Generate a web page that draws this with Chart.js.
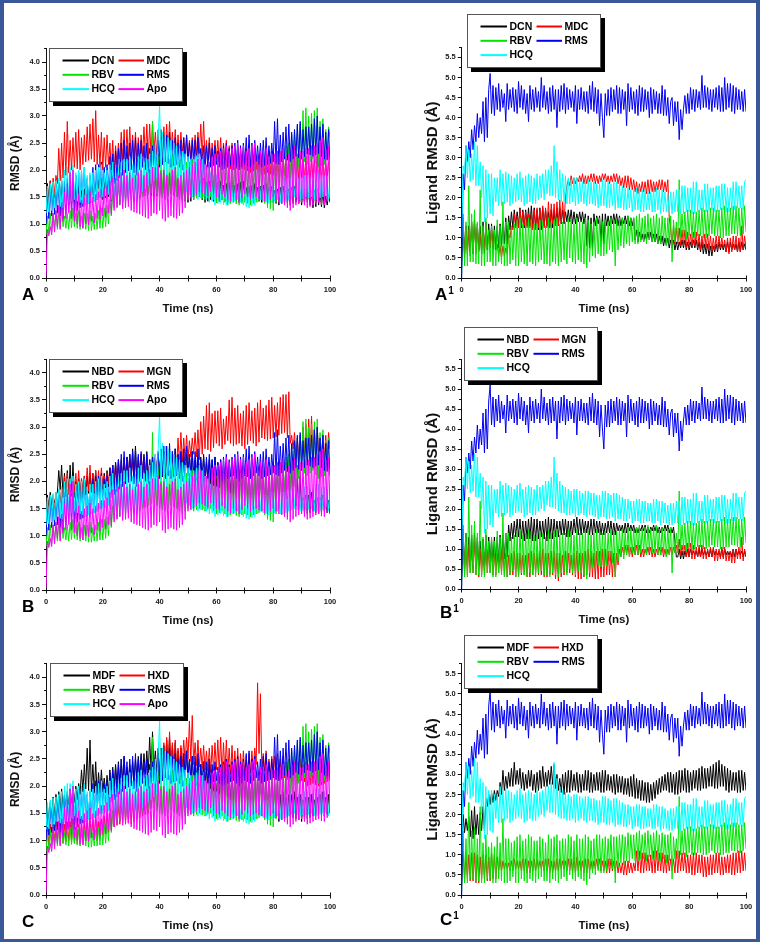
<!DOCTYPE html>
<html>
<head>
<meta charset="utf-8">
<script src="https://cdn.jsdelivr.net/npm/chart.js@4.4.1/dist/chart.umd.min.js"></script>
<style>
  html, body { margin: 0; padding: 0; background: #fff; }
  #page { position: relative; width: 760px; height: 942px; overflow: hidden; background: #fff; }
  #frame { position: absolute; left: 0; top: 0; width: 760px; height: 942px; box-sizing: border-box;
           border: 3px solid #3a5898; border-left-width: 4px; border-right-width: 4px; z-index: 5; pointer-events: none; }
  canvas { position: absolute; }
</style>
</head>
<body>
<div id="page">
  <canvas id="chartA"  width="380" height="323"></canvas>
  <canvas id="chartA1" width="380" height="323"></canvas>
  <canvas id="chartB"  width="380" height="325"></canvas>
  <canvas id="chartB1" width="380" height="324"></canvas>
  <canvas id="chartC"  width="380" height="323"></canvas>
  <canvas id="chartC1" width="380" height="323"></canvas>
  <div id="frame"></div>
</div>
<script>
// sampling grid: every 0.5 ns, one row of each array below = 10 ns
const TIME = Array.from({ length: 201 }, (_, i) => i / 2);
const X_TICKS = [0, 20, 40, 60, 80, 100];
const X_TICKS_MINOR = [0, 10, 20, 30, 40, 50, 60, 70, 80, 90, 100];
const Y_TICKS_PROTEIN = [0, 0.5, 1, 1.5, 2, 2.5, 3, 3.5, 4];
const Y_TICKS_LIGAND = [0, 0.5, 1, 1.5, 2, 2.5, 3, 3.5, 4, 4.5, 5, 5.5];

// protein RMSD (A), shared by panels A, B, C
const protApo = [
  0.00,0.90,0.78,0.95, 0.80,1.20,0.85,1.25, 0.95,1.35,0.90,1.40, 1.05,1.60,1.10,1.75, 1.20,1.95,1.10,2.00,
  1.05,1.50,1.00,1.55, 0.95,1.45,0.92,1.50, 1.00,1.55,0.98,1.60, 1.05,1.50,1.02,1.55, 1.10,1.60,1.08,1.65,
  1.15,1.65,1.12,1.70, 1.20,1.80,1.18,1.85, 1.25,1.85,1.30,1.90, 1.35,1.95,1.28,2.00, 1.30,1.90,1.32,1.95,
  1.25,1.85,1.22,1.90, 1.20,1.95,1.18,2.00, 1.15,1.90,1.12,1.95, 1.10,2.00,1.15,2.05, 1.20,2.05,1.18,2.10,
  1.25,1.95,1.10,2.00, 1.05,1.90,1.12,1.95, 1.15,2.00,1.12,2.05, 1.10,1.85,1.15,1.90, 1.20,1.95,1.30,2.00,
  1.45,2.05,1.48,2.10, 1.50,2.15,1.55,2.20, 1.60,2.20,1.58,2.25, 1.55,2.10,1.52,2.15, 1.60,2.25,1.55,2.30,
  1.50,2.30,1.48,2.35, 1.55,2.40,1.50,2.45, 1.45,2.35,1.42,2.40, 1.50,2.45,1.45,2.50, 1.40,2.40,1.48,2.45,
  1.55,2.35,1.50,2.40, 1.45,2.45,1.48,2.50, 1.50,2.30,1.47,2.35, 1.45,2.35,1.42,2.40, 1.40,2.25,1.45,2.30,
  1.50,2.30,1.45,2.35, 1.40,2.35,1.38,2.40, 1.35,2.25,1.30,2.30, 1.25,2.40,1.30,2.45, 1.35,2.30,1.38,2.35,
  1.40,2.35,1.35,2.40, 1.30,2.40,1.32,2.45, 1.35,2.45,1.38,2.50, 1.40,2.55,1.36,2.60, 1.35,2.40,1.42,2.45,
  1.50];
const protHCQ = [
  1.20,1.70,1.22,1.75, 1.25,1.78,1.30,1.80, 1.35,1.85,1.32,1.90, 1.30,2.00,1.35,2.05, 1.40,2.05,1.42,2.10,
  1.45,1.95,1.42,2.00, 1.40,2.00,1.38,2.05, 1.35,1.90,1.38,1.95, 1.40,1.95,1.42,2.00, 1.45,2.05,1.48,2.10,
  1.50,1.95,1.52,2.00, 1.55,2.10,1.45,2.15, 1.35,2.00,1.40,2.05, 1.45,2.15,1.42,2.20, 1.40,2.20,1.45,2.25,
  1.50,2.10,1.48,2.15, 1.45,2.25,1.55,2.30, 1.60,2.15,1.65,2.20, 1.70,2.30,1.75,2.35, 1.80,2.50,1.85,2.60,
  3.20,2.00,2.70,1.95, 2.65,1.90,2.60,1.85, 2.55,1.88,2.50,1.80, 2.45,1.82,2.40,1.70, 2.35,1.65,2.30,1.60,
  2.25,1.55,2.20,1.50, 2.20,1.52,2.25,1.45, 2.30,1.48,2.20,1.50, 2.10,1.45,2.05,1.40, 1.95,1.42,1.90,1.35,
  1.90,1.38,1.85,1.40, 1.85,1.36,1.80,1.35, 1.80,1.38,1.75,1.40, 1.75,1.42,1.70,1.45, 1.70,1.40,1.80,1.35,
  1.80,1.32,1.75,1.30, 1.70,1.33,1.75,1.35, 1.75,1.40,1.85,1.45, 1.85,1.42,1.75,1.40, 1.75,1.38,1.80,1.40,
  1.80,1.42,1.75,1.45, 1.75,1.40,1.80,1.40, 1.80,1.42,1.85,1.45, 1.85,1.48,1.90,1.50, 1.90,1.48,1.85,1.45,
  1.85,1.47,1.90,1.50, 1.90,1.48,1.85,1.50, 1.85,1.45,1.95,1.45, 1.95,1.48,1.90,1.50, 1.90,1.52,1.85,1.45,
  1.80];
const protRMS = [
  1.00,1.55,1.10,1.60, 1.15,1.65,1.18,1.70, 1.20,1.75,1.15,1.80, 1.10,1.80,1.20,1.85, 1.25,1.95,1.22,2.00,
  1.20,1.90,1.25,1.95, 1.30,2.00,1.32,2.05, 1.35,1.85,1.38,1.90, 1.40,2.05,1.42,2.10, 1.45,2.10,1.50,2.15,
  1.55,2.05,1.58,2.10, 1.60,2.25,1.70,2.30, 1.75,2.35,1.80,2.40, 1.85,2.50,1.90,2.55, 1.95,2.45,1.98,2.50,
  2.00,2.55,1.95,2.60, 1.90,2.50,2.00,2.55, 2.05,2.45,2.00,2.50, 1.95,2.40,2.05,2.45, 2.10,2.50,2.08,2.55,
  2.05,2.60,2.10,2.65, 2.15,2.65,2.12,2.70, 2.05,2.55,2.08,2.60, 2.10,2.50,2.05,2.55, 2.00,2.60,2.10,2.65,
  2.15,2.50,2.10,2.55, 2.05,2.55,2.08,2.60, 2.10,2.40,2.05,2.45, 2.00,2.45,2.02,2.50, 2.05,2.40,2.08,2.45,
  2.10,2.35,2.05,2.40, 2.00,2.45,2.02,2.50, 2.05,2.40,2.08,2.45, 2.10,2.50,2.05,2.55, 2.00,2.45,2.05,2.50,
  2.10,2.60,2.08,2.65, 2.05,2.50,2.10,2.55, 2.15,2.45,2.10,2.50, 2.05,2.55,2.08,2.60, 2.10,2.45,2.12,2.50,
  2.15,2.90,2.12,2.95, 2.10,2.65,2.15,2.70, 2.20,2.80,2.18,2.85, 2.15,2.70,2.20,2.75, 2.25,2.85,2.22,2.90,
  2.20,2.75,2.25,2.80, 2.30,2.80,2.28,2.85, 2.25,2.95,2.28,3.00, 2.30,2.80,2.25,2.85, 2.20,2.70,2.18,2.75,
  2.10];
const protRBV = [
  0.80,1.15,0.82,1.20, 0.85,1.20,0.88,1.25, 0.90,1.25,0.92,1.30, 0.95,1.15,0.92,1.20, 0.90,1.25,0.93,1.30,
  0.95,1.20,0.92,1.25, 0.90,1.15,0.92,1.20, 0.90,1.20,0.88,1.25, 0.88,1.15,0.90,1.20, 0.90,1.25,0.92,1.30,
  0.92,1.30,0.95,1.35, 1.00,1.45,1.15,1.55, 1.30,1.80,1.32,1.85, 1.35,1.85,1.38,1.90, 1.40,1.95,1.42,2.00,
  1.45,1.90,1.42,1.95, 1.40,2.00,1.45,2.05, 1.50,2.10,1.52,2.20, 1.55,2.40,1.58,2.90, 1.60,2.25,1.55,2.30,
  1.50,2.20,1.48,2.25, 1.45,2.15,1.50,2.20, 1.55,2.30,1.52,2.35, 1.50,2.15,1.45,2.20, 1.40,2.10,1.45,2.15,
  1.50,2.15,1.48,2.20, 1.45,2.05,1.48,2.10, 1.50,2.20,1.47,2.25, 1.45,2.05,1.48,2.10, 1.50,2.15,1.45,2.20,
  1.40,2.10,1.42,2.15, 1.45,2.15,1.40,2.20, 1.35,2.05,1.38,2.10, 1.40,2.20,1.37,2.25, 1.35,2.15,1.38,2.20,
  1.40,2.25,1.38,2.30, 1.35,2.15,1.38,2.20, 1.40,2.20,1.42,2.25, 1.45,2.30,1.38,2.35, 1.30,2.25,1.28,2.30,
  1.25,2.20,1.40,2.25, 1.50,2.35,1.55,2.40, 1.60,2.45,1.75,2.50, 1.85,2.65,1.88,2.70, 1.90,2.80,2.05,2.85,
  2.20,3.10,2.15,3.15, 2.10,3.00,2.15,3.05, 2.20,3.10,2.12,3.15, 2.05,2.90,2.08,2.95, 2.10,2.75,2.20,2.80,
  2.60];
const protDCN = [
  1.40,1.75,1.45,1.80, 1.50,1.72,1.48,1.75, 1.45,1.78,1.42,1.80, 1.40,1.68,1.38,1.70, 1.35,1.72,1.38,1.75,
  1.40,1.68,1.38,1.70, 1.35,1.62,1.38,1.65, 1.40,1.72,1.42,1.75, 1.45,1.78,1.48,1.80, 1.50,1.82,1.48,1.85,
  1.45,1.78,1.48,1.80, 1.50,1.88,1.42,1.90, 1.35,1.82,1.38,1.85, 1.40,1.92,1.42,1.95, 1.45,1.88,1.48,1.90,
  1.50,1.98,1.48,2.00, 1.45,1.92,1.48,1.95, 1.50,1.98,1.52,2.00, 1.55,2.02,1.52,2.05, 1.50,1.92,1.52,1.95,
  1.55,1.98,1.52,2.00, 1.50,1.92,1.52,1.95, 1.55,2.02,1.52,2.05, 1.50,1.92,1.48,1.95, 1.45,1.88,1.42,1.90,
  1.40,1.82,1.42,1.85, 1.45,1.88,1.48,1.90, 1.50,1.82,1.45,1.85, 1.40,1.78,1.42,1.80, 1.45,1.82,1.42,1.85,
  1.40,1.78,1.42,1.80, 1.45,1.72,1.42,1.75, 1.40,1.78,1.42,1.80, 1.45,1.72,1.42,1.75, 1.40,1.78,1.42,1.80,
  1.45,1.68,1.42,1.70, 1.40,1.72,1.42,1.75, 1.45,1.68,1.42,1.70, 1.40,1.72,1.42,1.75, 1.45,1.68,1.42,1.70,
  1.40,1.62,1.38,1.65, 1.35,1.68,1.38,1.70, 1.40,1.62,1.38,1.65, 1.35,1.68,1.38,1.70, 1.40,1.58,1.38,1.60,
  1.35,1.62,1.38,1.65, 1.40,1.58,1.35,1.60, 1.30,1.62,1.32,1.65, 1.35,1.58,1.32,1.60, 1.30,1.52,1.35,1.55,
  1.40];
const protMDC = [
  1.20,1.70,1.30,1.80, 1.40,1.85,1.55,1.90, 1.75,2.40,1.80,2.50, 1.85,2.70,1.90,2.90, 1.95,2.55,2.00,2.60,
  2.05,2.70,2.02,2.75, 2.00,2.60,2.10,2.65, 2.15,2.80,2.18,2.85, 2.20,2.95,2.15,3.10, 2.10,2.65,2.05,2.70,
  2.00,2.60,2.05,2.65, 2.10,2.50,2.00,2.55, 1.95,2.45,2.10,2.50, 2.20,2.70,2.18,2.75, 2.15,2.75,2.18,2.80,
  2.20,2.65,2.18,2.70, 2.15,2.60,2.20,2.65, 2.25,2.80,2.22,2.85, 2.20,2.85,2.25,2.90, 2.30,2.70,2.28,2.75,
  2.25,2.75,2.28,2.80, 2.30,2.85,2.32,2.90, 2.35,2.70,2.30,2.75, 2.25,2.65,2.28,2.70, 2.30,2.60,2.25,2.65,
  2.20,2.55,2.22,2.60, 2.25,2.65,2.28,2.70, 2.30,2.85,2.25,2.90, 2.20,2.55,2.18,2.60, 2.15,2.50,2.18,2.55,
  2.20,2.55,2.15,2.60, 2.10,2.50,2.08,2.55, 2.05,2.45,2.02,2.50, 2.00,2.40,2.02,2.45, 2.05,2.35,2.02,2.40,
  2.00,2.40,1.98,2.45, 1.95,2.35,1.98,2.40, 2.00,2.30,1.95,2.35, 1.90,2.25,1.92,2.30, 1.95,2.30,1.92,2.35,
  1.90,2.25,1.88,2.30, 1.85,2.20,1.88,2.25, 1.90,2.25,1.88,2.30, 1.85,2.20,1.82,2.25, 1.80,2.25,1.82,2.30,
  1.85,2.20,1.82,2.25, 1.80,2.15,1.82,2.20, 1.85,2.20,1.82,2.25, 1.80,2.15,1.82,2.20, 1.85,2.10,1.88,2.15,
  1.90];
const protNBD = [
  1.50,1.75,1.52,1.80, 1.55,1.70,1.60,1.75, 1.80,2.20,1.85,2.30, 1.70,2.15,1.72,2.20, 1.75,2.30,1.72,2.35,
  1.70,2.00,1.68,2.05, 1.65,2.05,1.70,2.10, 1.75,2.10,1.78,2.15, 1.80,2.15,1.78,2.20, 1.75,2.05,1.80,2.10,
  1.85,2.15,1.88,2.20, 1.90,2.25,1.92,2.30, 1.95,2.35,1.98,2.40, 2.00,2.40,2.02,2.45, 2.05,2.45,2.08,2.50,
  2.10,2.60,2.08,2.65, 2.05,2.45,2.08,2.50, 2.10,2.50,2.05,2.55, 2.00,2.40,2.02,2.45, 2.05,2.45,2.08,2.50,
  2.10,2.50,2.08,2.55, 2.05,2.45,2.10,2.50, 2.15,2.55,2.12,2.60, 2.10,2.50,2.08,2.55, 2.05,2.45,2.08,2.50,
  2.10,2.50,2.05,2.55, 2.00,2.40,2.02,2.45, 2.05,2.45,2.02,2.50, 2.00,2.35,1.98,2.40, 1.95,2.40,1.92,2.45,
  1.90,2.35,1.88,2.40, 1.85,2.30,1.82,2.35, 1.80,2.25,1.78,2.30, 1.75,2.30,1.72,2.35, 1.70,2.25,1.65,2.30,
  1.60,2.20,1.58,2.25, 1.55,2.15,1.52,2.20, 1.50,2.20,1.52,2.25, 1.55,2.15,1.52,2.20, 1.50,2.10,1.52,2.15,
  1.55,2.20,1.58,2.25, 1.60,2.25,1.62,2.30, 1.65,2.35,1.68,2.40, 1.70,2.40,1.62,2.45, 1.55,2.05,1.50,2.10,
  1.45,1.70,1.42,1.75, 1.40,1.75,1.42,1.80, 1.45,1.65,1.42,1.70, 1.40,1.70,1.42,1.75, 1.45,1.60,1.42,1.65,
  1.40];
const protMGN = [
  1.30,1.70,1.38,1.75, 1.45,1.75,1.48,1.80, 1.50,1.85,1.60,1.90, 1.70,2.10,1.72,2.15, 1.75,2.00,1.78,2.05,
  1.80,2.15,1.78,2.20, 1.75,2.05,1.80,2.10, 1.85,2.25,1.82,2.30, 1.80,2.15,1.82,2.20, 1.85,2.20,1.88,2.25,
  1.90,2.10,1.92,2.15, 1.95,2.25,1.98,2.30, 2.00,2.30,2.02,2.35, 2.05,2.35,2.02,2.40, 2.00,2.40,2.05,2.45,
  2.10,2.35,2.08,2.40, 2.05,2.45,2.10,2.50, 2.15,2.40,2.12,2.45, 2.10,2.35,2.12,2.40, 2.15,2.45,2.18,2.50,
  2.20,2.50,2.18,2.55, 2.15,2.55,2.18,2.60, 2.20,2.50,2.22,2.55, 2.25,2.80,2.30,2.90, 2.35,2.80,2.38,2.85,
  2.40,2.75,2.45,2.80, 2.50,2.90,2.45,2.95, 2.40,3.10,2.50,3.20, 2.60,3.40,2.58,3.45, 2.55,3.25,2.62,3.30,
  2.70,3.30,2.65,3.35, 2.60,3.15,2.68,3.20, 2.75,3.50,2.70,3.55, 2.65,3.35,2.68,3.40, 2.70,3.25,2.65,3.30,
  2.60,3.40,2.68,3.45, 2.75,3.30,2.70,3.35, 2.65,3.45,2.72,3.50, 2.80,3.35,2.78,3.40, 2.75,3.50,2.78,3.55,
  2.80,3.40,2.82,3.45, 2.85,3.55,2.88,3.60, 2.90,3.60,2.80,3.65, 2.70,2.85,2.60,2.90, 2.45,2.80,2.42,2.85,
  2.40,3.00,2.45,3.05, 2.50,3.15,2.48,3.20, 2.45,2.95,2.50,3.00, 2.55,2.80,2.48,2.85, 2.40,2.85,2.45,2.90,
  2.60];
const protMDF = [
  1.30,1.65,1.35,1.70, 1.40,1.80,1.45,1.85, 1.50,1.90,1.55,1.95, 1.60,1.85,1.62,1.90, 1.65,1.95,1.68,2.00,
  1.70,2.00,1.75,2.05, 1.85,2.30,1.90,2.40, 1.95,2.70,1.92,2.85, 1.90,2.40,1.88,2.45, 1.85,2.25,1.88,2.30,
  1.90,2.15,1.88,2.20, 1.85,2.30,1.92,2.35, 2.00,2.40,2.02,2.45, 2.05,2.50,2.08,2.55, 2.10,2.35,2.08,2.40,
  2.05,2.45,2.10,2.50, 2.15,2.55,2.18,2.60, 2.20,2.60,2.22,2.65, 2.25,2.90,2.28,3.00, 2.30,2.65,2.25,2.70,
  2.20,2.70,2.28,2.75, 2.35,2.85,2.32,2.90, 2.30,2.75,2.28,2.80, 2.25,2.65,2.22,2.70, 2.20,2.60,2.18,2.65,
  2.15,2.50,2.10,2.55, 2.05,2.45,2.02,2.50, 2.00,2.40,1.95,2.45, 1.90,2.35,1.88,2.40, 1.85,2.30,1.82,2.35,
  1.80,2.25,1.78,2.30, 1.75,2.30,1.72,2.35, 1.70,2.25,1.68,2.30, 1.65,2.20,1.62,2.25, 1.60,2.25,1.62,2.30,
  1.65,2.20,1.62,2.25, 1.60,2.15,1.58,2.20, 1.55,2.20,1.58,2.25, 1.60,2.15,1.58,2.20, 1.55,2.10,1.52,2.15,
  1.50,2.05,1.42,2.10, 1.35,1.85,1.38,1.90, 1.40,1.80,1.42,1.85, 1.45,1.85,1.42,1.90, 1.40,1.80,1.38,1.85,
  1.35,1.75,1.38,1.80, 1.40,1.80,1.42,1.85, 1.45,1.75,1.48,1.80, 1.50,1.85,1.48,1.90, 1.45,1.80,1.48,1.85,
  1.50];
const protHXD = [
  0.90,1.25,0.92,1.30, 0.95,1.30,0.98,1.35, 1.00,1.35,1.02,1.40, 0.95,1.30,0.98,1.35, 1.00,1.35,0.98,1.40,
  0.95,1.25,0.94,1.30, 0.92,1.30,0.95,1.35, 1.00,1.35,1.02,1.40, 1.05,1.40,1.02,1.45, 1.00,1.35,1.05,1.40,
  1.10,1.45,1.12,1.50, 1.15,1.50,1.20,1.55, 1.25,1.60,1.28,1.65, 1.30,1.65,1.32,1.70, 1.35,1.70,1.32,1.75,
  1.30,1.75,1.35,1.80, 1.40,1.70,1.42,1.75, 1.45,1.80,1.48,1.85, 1.50,1.85,1.60,1.90, 1.70,2.10,1.90,2.20,
  2.20,2.70,2.25,2.80, 2.30,2.90,2.32,3.00, 2.35,2.80,2.32,2.85, 2.30,2.70,2.35,2.75, 2.40,2.85,2.45,2.90,
  2.50,3.20,2.45,3.30, 2.40,2.80,2.38,2.85, 2.35,2.70,2.32,2.75, 2.30,2.65,2.28,2.70, 2.25,2.75,2.28,2.80,
  2.30,2.85,2.25,2.90, 2.20,2.80,2.22,2.85, 2.25,2.70,2.22,2.75, 2.20,2.65,2.18,2.70, 2.15,2.60,2.18,2.65,
  2.20,2.55,2.22,2.60, 2.25,2.65,2.30,2.70, 2.40,3.90,2.60,3.70, 2.30,2.60,2.28,2.65, 2.20,2.50,2.18,2.55,
  2.15,2.55,2.12,2.60, 2.10,2.50,2.12,2.55, 2.15,2.45,2.12,2.50, 2.10,2.40,2.08,2.45, 2.05,2.45,2.08,2.50,
  2.10,2.40,2.08,2.45, 2.00,2.35,2.02,2.40, 2.05,2.40,2.02,2.45, 2.00,2.35,2.02,2.40, 2.05,2.30,2.08,2.35,
  2.10];

// ligand RMSD (A), shared by panels A1, B1, C1
const ligRMS = [
  0.00,2.60,2.20,3.30, 2.90,3.40,3.00,3.70, 3.20,3.80,3.40,4.10, 3.50,4.00,3.60,4.40, 3.40,4.50,3.50,4.70,
  5.10,4.10,4.80,4.05, 4.75,4.20,4.85,4.15, 4.70,4.25,4.60,3.90, 4.85,4.20,4.70,4.25, 4.75,4.15,4.70,4.10,
  4.90,4.25,4.80,4.20, 4.70,4.10,4.60,3.90, 4.80,4.20,4.70,4.15, 4.75,4.25,4.65,4.15, 5.00,4.25,4.80,4.20,
  4.65,4.10,4.75,4.15, 4.80,4.20,4.70,3.75, 4.70,4.15,4.80,4.20, 4.85,4.10,4.75,4.20, 4.70,4.25,4.65,4.15,
  4.80,3.85,4.70,4.20, 4.75,4.20,4.65,4.15, 4.65,4.10,4.80,4.20, 4.90,4.15,4.75,4.10, 4.70,3.80,4.60,4.00,
  3.50,4.60,4.05,4.70, 4.05,4.75,4.15,4.70, 4.20,4.80,4.10,4.75, 4.10,4.70,4.20,4.65, 3.80,4.85,4.15,4.75,
  4.20,4.65,4.10,4.70, 4.05,4.80,4.15,4.75, 4.15,4.70,4.20,4.65, 4.00,4.75,4.10,4.70, 4.20,4.65,4.10,4.60,
  4.10,4.80,4.05,4.70, 4.05,4.50,3.85,4.40, 4.50,3.80,4.40,3.90, 4.40,3.45,4.20,3.70, 4.20,4.55,4.10,4.60,
  4.10,4.75,4.20,4.70, 4.15,4.70,4.25,4.65, 4.20,5.05,4.25,4.80, 4.25,4.75,4.20,4.70, 4.15,4.70,4.25,4.75,
  4.20,4.80,4.15,4.75, 4.15,5.00,4.20,4.85, 4.25,4.85,4.15,4.80, 4.10,4.75,4.20,4.70, 4.20,4.65,4.15,4.70,
  4.15];
const ligHCQ = [
  1.00,2.80,2.60,3.30, 2.50,3.20,2.40,3.10, 2.45,3.40,2.30,3.30, 2.30,2.90,2.00,2.80, 1.40,2.70,1.50,2.60,
  1.60,2.60,1.55,2.50, 1.90,2.50,1.80,2.70, 1.80,2.60,1.85,2.65, 1.90,2.60,1.80,2.55, 1.85,2.50,1.90,2.60,
  1.95,2.65,1.90,2.50, 1.80,2.55,1.85,2.60, 1.90,2.55,1.85,2.50, 1.85,2.60,1.95,2.55, 2.00,2.60,1.95,2.70,
  2.10,2.70,2.05,2.80, 2.05,3.30,2.00,2.90, 1.95,2.70,1.90,2.60, 1.90,2.55,1.85,2.50, 1.85,2.45,1.90,2.50,
  1.80,2.50,1.85,2.45, 1.90,2.40,1.85,2.45, 1.80,2.45,1.85,2.40, 1.85,2.40,1.80,2.35, 1.75,2.35,1.80,2.45,
  1.80,2.45,1.75,2.40, 1.75,2.35,1.80,2.40, 1.70,2.40,1.75,2.35, 1.75,2.30,1.70,2.25, 1.70,2.25,1.75,2.20,
  1.65,2.20,1.70,2.25, 1.70,2.25,1.65,2.20, 1.65,2.20,1.70,2.15, 1.70,2.15,1.65,2.25, 1.65,2.25,1.70,2.20,
  1.60,2.20,1.65,2.15, 1.65,2.10,1.60,2.15, 1.60,2.15,1.65,2.20, 1.65,2.20,1.60,2.30, 1.60,2.30,1.65,2.25,
  1.65,2.25,1.60,2.40, 1.60,2.40,1.65,2.20, 1.70,2.20,1.65,2.35, 1.65,2.35,1.70,2.25, 1.70,2.25,1.65,2.30,
  1.65,2.30,1.70,2.35, 1.70,2.35,1.65,2.25, 1.65,2.25,1.70,2.40, 1.70,2.40,1.75,2.30, 1.75,2.30,1.70,2.40,
  2.45];
const ligRBV = [
  0.10,1.60,0.30,1.40, 0.30,2.30,0.40,1.60, 0.40,1.70,0.35,1.40, 0.35,2.20,0.30,1.30, 0.30,1.50,0.40,1.20,
  0.40,1.30,0.30,1.20, 0.30,1.45,0.40,1.30, 0.35,1.90,0.30,1.40, 0.30,1.40,0.35,1.30, 0.45,1.35,0.30,1.45,
  0.30,1.50,0.40,1.35, 0.35,1.40,0.30,1.50, 0.40,1.45,0.35,1.35, 0.30,1.35,0.40,1.45, 0.45,1.40,0.35,1.30,
  0.35,1.50,0.30,1.40, 0.40,1.45,0.35,1.50, 0.30,1.35,0.40,1.40, 0.45,1.40,0.35,1.50, 0.50,1.45,0.40,1.35,
  0.35,1.50,0.45,1.40, 0.40,1.40,0.35,1.50, 0.25,1.45,0.40,1.35, 0.55,1.40,0.50,1.50, 0.60,1.50,0.55,1.40,
  0.55,1.45,0.60,1.40, 0.70,1.50,0.65,1.45, 0.30,1.45,0.70,1.50, 0.80,1.50,0.75,1.45, 0.85,1.55,0.80,1.50,
  0.90,1.50,0.85,1.55, 0.85,1.60,0.90,1.50, 0.90,1.55,0.85,1.60, 0.95,1.50,0.90,1.55, 0.90,1.60,0.85,1.50,
  0.85,1.55,0.90,1.50, 0.80,1.50,0.85,1.55, 0.40,1.45,0.90,1.40, 0.90,2.45,1.00,1.60, 1.00,1.65,0.95,1.70,
  1.05,1.70,1.00,1.65, 1.00,1.65,1.05,1.70, 1.05,1.75,1.00,1.70, 1.00,1.70,1.05,1.75, 1.10,1.75,1.05,1.70,
  1.05,1.70,1.00,1.75, 1.00,1.80,1.05,1.75, 1.05,1.75,1.10,1.80, 1.10,1.80,1.05,1.75, 1.05,1.75,1.10,1.80,
  1.15];
const ligDCN = [
  0.50,1.40,0.60,1.30, 0.70,1.30,0.65,1.40, 0.60,1.45,0.70,1.35, 0.70,1.30,0.60,1.40, 0.60,1.40,0.70,1.35,
  0.75,1.35,0.70,1.30, 0.70,1.30,0.75,1.35, 0.80,1.40,0.85,1.50, 0.85,1.55,1.20,1.65, 1.25,1.70,1.30,1.65,
  1.30,1.75,1.25,1.70, 1.25,1.70,1.30,1.75, 1.30,1.80,1.25,1.75, 1.25,1.70,1.20,1.75, 1.20,1.75,1.30,1.70,
  1.30,1.65,1.25,1.70, 1.25,1.70,1.30,1.75, 1.30,1.75,1.35,1.70, 1.35,1.65,1.40,1.70, 1.40,1.70,1.35,1.65,
  1.35,1.60,1.40,1.65, 1.40,1.65,1.35,1.60, 0.80,1.55,0.75,1.50, 0.70,1.60,1.30,1.55, 1.35,1.55,0.90,1.60,
  0.85,1.60,1.30,1.55, 1.30,1.55,1.35,1.60, 1.35,1.60,1.30,1.55, 1.30,1.50,1.35,1.55, 1.35,1.55,1.30,1.50,
  1.30,1.50,0.95,1.20, 0.90,1.15,0.95,1.10, 0.90,1.10,0.95,1.15, 0.95,1.15,0.90,1.10, 0.90,1.10,0.85,1.05,
  0.85,1.05,0.80,1.00, 0.80,1.00,0.75,0.95, 0.75,0.95,0.70,0.90, 0.70,0.90,0.75,0.95, 0.75,0.95,0.70,0.90,
  0.70,0.90,0.75,0.95, 0.75,0.95,0.70,0.90, 0.65,0.90,0.60,0.85, 0.60,0.85,0.55,0.80, 0.55,0.80,0.65,0.85,
  0.65,0.90,0.70,0.85, 0.70,0.85,0.65,0.90, 0.65,0.90,0.70,0.85, 0.70,0.85,0.65,0.90, 0.65,0.90,0.70,0.85,
  0.70];
const ligMDC = [
  0.40,1.50,0.50,1.30, 0.60,1.20,0.55,1.35, 0.70,1.40,0.60,1.25, 0.65,1.10,0.70,1.20, 0.70,1.30,0.75,1.15,
  0.80,1.20,0.75,1.10, 0.75,0.85,0.55,0.80, 0.50,0.80,0.55,0.75, 0.60,1.10,1.00,1.30, 1.20,1.60,1.25,1.55,
  1.25,1.70,1.30,1.65, 1.30,1.65,1.25,1.60, 1.25,1.60,1.20,1.70, 1.20,1.75,1.25,1.70, 1.30,1.80,1.25,1.75,
  1.25,1.90,1.30,1.85, 1.35,1.85,1.30,1.90, 1.30,1.95,1.35,1.90, 1.40,2.00,2.30,2.45, 2.30,2.55,2.35,2.50,
  2.35,2.50,2.40,2.55, 2.40,2.60,2.35,2.55, 2.35,2.55,2.40,2.60, 2.40,2.60,2.35,2.55, 2.35,2.55,2.40,2.60,
  2.45,2.60,2.40,2.55, 2.35,2.55,2.40,2.60, 2.40,2.60,2.35,2.55, 2.30,2.50,2.25,2.55, 2.25,2.55,2.20,2.50,
  2.20,2.45,2.15,2.40, 2.10,2.35,2.15,2.40, 2.15,2.40,2.10,2.45, 2.10,2.45,2.15,2.40, 2.15,2.40,2.20,2.45,
  2.20,2.45,2.15,2.40, 2.15,2.45,1.50,1.20, 0.80,1.30,0.85,1.25, 0.85,1.25,0.80,1.20, 0.80,1.20,0.75,1.15,
  0.75,1.10,0.80,1.15, 0.80,1.15,0.75,1.10, 0.70,1.05,0.75,1.10, 0.75,1.10,0.70,1.05, 0.65,1.00,0.70,1.05,
  0.70,1.05,0.75,1.00, 0.75,0.95,0.65,1.00, 0.60,1.00,0.65,1.05, 0.70,1.05,0.65,1.00, 0.65,1.30,0.70,1.05,
  0.75];
const ligNBD = [
  0.40,1.50,0.50,1.40, 0.60,1.30,0.55,1.35, 0.50,1.40,0.55,1.30, 0.60,1.20,0.55,1.25, 0.55,1.35,0.60,1.30,
  0.65,1.25,0.60,1.30, 0.60,1.30,0.65,1.35, 0.70,1.35,0.75,1.40, 0.80,1.60,1.20,1.65, 1.25,1.70,1.30,1.75,
  1.30,1.75,1.25,1.70, 1.20,1.70,1.25,1.75, 1.25,1.80,1.20,1.75, 1.20,1.75,1.25,1.70, 1.30,1.70,1.25,1.75,
  1.20,1.80,1.25,1.75, 1.25,1.75,1.30,1.70, 1.30,1.70,1.35,1.75, 1.35,1.75,1.30,1.70, 1.30,1.70,1.35,1.75,
  1.40,1.80,1.35,1.75, 1.35,1.75,1.40,1.70, 1.40,1.70,1.35,1.75, 1.35,1.75,1.40,1.70, 1.40,1.70,1.35,1.65,
  1.35,1.65,1.40,1.70, 1.40,1.70,1.35,1.65, 1.35,1.65,1.45,1.60, 1.45,1.60,1.40,1.65, 1.40,1.65,1.45,1.60,
  1.45,1.60,1.40,1.55, 1.40,1.55,1.45,1.60, 1.45,1.60,1.40,1.55, 1.40,1.55,1.45,1.60, 1.45,1.60,1.40,1.55,
  1.40,1.55,1.45,1.60, 1.45,1.60,1.40,1.55, 1.40,1.55,1.20,0.80, 0.80,1.00,0.75,0.95, 0.75,0.95,0.80,1.00,
  0.80,1.00,0.85,0.95, 0.85,0.95,0.80,1.00, 0.80,1.00,0.85,0.95, 0.85,0.95,0.80,1.00, 0.80,1.00,0.85,0.95,
  0.85,0.95,0.80,1.00, 0.80,1.00,0.85,0.95, 0.85,0.95,0.80,1.00, 0.80,1.00,0.85,0.95, 0.85,0.95,0.80,0.95,
  0.80];
const ligMGN = [
  0.30,1.40,0.35,1.20, 0.35,1.10,0.40,1.00, 0.40,1.30,0.35,1.10, 0.30,1.00,0.35,0.95, 0.35,1.10,0.40,0.95,
  0.40,0.95,0.35,0.90, 0.35,0.90,0.40,0.95, 0.40,1.00,0.35,0.90, 0.30,0.85,0.35,0.90, 0.35,0.95,0.30,0.90,
  0.30,0.90,0.35,0.85, 0.35,0.85,0.30,0.90, 0.30,0.95,0.35,0.90, 0.40,0.90,0.35,0.95, 0.35,1.00,0.30,0.90,
  0.30,0.90,0.35,0.95, 0.35,0.95,0.25,0.90, 0.20,0.90,0.30,0.85, 0.35,0.95,0.40,0.90, 0.40,0.85,0.35,0.90,
  0.30,0.95,0.25,0.90, 0.25,0.90,0.30,0.95, 0.35,1.00,0.30,0.95, 0.30,0.90,0.25,0.95, 0.25,0.95,0.30,1.00,
  0.30,1.00,0.35,0.95, 0.35,0.95,0.30,0.90, 0.30,0.90,0.60,1.00, 0.80,1.05,0.85,1.10, 0.85,1.10,0.80,1.05,
  0.80,1.05,0.85,1.10, 0.85,1.10,0.80,1.00, 0.80,1.00,0.85,1.05, 0.85,1.05,0.80,1.00, 0.80,1.00,0.85,1.05,
  0.85,1.05,0.80,1.00, 0.80,1.00,0.85,1.05, 0.85,1.05,0.90,1.10, 0.90,1.25,0.85,1.10, 0.85,1.10,0.80,1.15,
  0.80,1.15,0.75,1.10, 0.75,1.05,0.80,1.10, 0.80,1.10,0.75,1.05, 0.75,1.00,0.80,1.05, 0.80,1.05,0.70,1.00,
  0.70,1.00,0.75,1.05, 0.75,1.05,0.70,0.95, 0.70,0.95,0.65,1.00, 0.65,1.00,0.75,1.05, 0.75,1.30,0.70,1.00,
  0.80];
const ligMDF = [
  1.50,2.00,1.55,1.90, 1.60,1.95,1.45,2.10, 1.40,2.20,1.50,2.00, 1.50,2.05,1.60,2.20, 1.60,2.40,2.20,2.50,
  2.25,2.55,2.30,2.60, 2.35,2.60,2.45,2.80, 2.50,3.10,2.60,2.95, 2.65,3.05,2.70,3.15, 2.70,3.30,2.75,3.10,
  2.75,3.15,2.65,3.05, 2.60,3.00,2.65,3.10, 2.70,3.10,2.60,3.00, 2.55,3.05,2.60,3.10, 2.65,3.20,2.70,3.05,
  2.70,3.10,2.75,3.20, 2.75,3.25,2.65,3.00, 2.60,2.90,2.55,3.00, 2.50,3.05,2.55,3.10, 2.55,3.10,2.60,3.00,
  2.60,3.05,2.55,3.00, 2.55,3.00,2.60,3.10, 2.60,3.10,2.55,3.05, 2.55,3.00,2.60,3.05, 2.60,3.05,2.55,3.10,
  2.55,3.10,2.60,3.00, 2.60,2.95,2.55,3.00, 2.50,3.00,2.55,2.95, 2.55,2.95,2.50,2.90, 2.50,2.90,2.45,2.95,
  2.45,3.00,2.40,2.90, 2.40,2.85,2.35,2.85, 2.35,2.80,2.30,2.80, 2.30,2.75,2.35,2.80, 2.40,2.85,2.50,2.90,
  2.55,2.95,2.60,3.00, 2.60,3.05,2.55,3.05, 2.55,3.00,2.50,3.05, 2.50,3.10,2.55,3.10, 2.60,3.15,2.55,3.10,
  2.55,3.05,2.60,3.10, 2.65,3.10,2.60,3.15, 2.60,3.20,2.65,3.15, 2.65,3.15,2.70,3.20, 2.70,3.25,2.65,3.30,
  2.65,3.35,2.70,3.25, 2.70,3.20,2.60,3.15, 2.55,3.10,2.60,3.05, 2.60,3.05,2.55,3.10, 2.55,3.10,2.60,3.05,
  2.60];
const ligHXD = [
  0.30,1.10,0.35,1.00, 0.40,1.00,0.35,1.05, 0.35,1.05,0.30,1.00, 0.30,0.95,0.40,1.00, 0.40,1.00,0.35,0.95,
  0.35,1.05,0.40,1.00, 0.40,0.95,0.60,0.90, 0.60,0.85,0.65,0.80, 0.65,0.80,0.60,0.85, 0.60,0.90,0.65,0.85,
  0.65,0.85,0.60,0.90, 0.60,0.90,0.55,0.85, 0.55,0.85,0.60,0.90, 0.60,0.90,0.65,0.85, 0.65,0.85,0.60,0.90,
  0.60,0.90,0.55,0.85, 0.55,0.85,0.60,0.90, 0.60,0.90,0.65,0.85, 0.65,0.85,0.60,0.90, 0.60,0.90,0.55,0.95,
  0.55,0.95,0.60,0.85, 0.60,0.85,0.55,0.90, 0.55,0.90,0.60,0.85, 0.60,0.85,0.65,0.90, 0.65,0.90,0.60,0.85,
  0.60,0.85,0.55,0.90, 0.55,0.90,0.60,0.85, 0.60,0.85,0.55,0.80, 0.55,0.80,0.50,0.85, 0.50,0.85,0.55,0.80,
  0.55,0.80,0.60,1.10, 0.60,1.10,0.55,1.05, 0.55,1.05,0.60,1.00, 0.60,1.00,0.55,1.10, 0.55,1.10,0.60,1.05,
  0.60,1.05,0.55,1.00, 0.55,1.00,0.60,0.90, 0.60,0.90,0.55,1.10, 0.55,1.10,0.60,1.05, 0.60,1.05,0.55,1.00,
  0.55,1.00,0.50,1.05, 0.50,1.05,0.55,1.00, 0.55,1.00,0.45,0.95, 0.45,0.95,0.50,1.00, 0.50,1.00,0.55,1.05,
  0.55,1.05,0.50,0.95, 0.50,0.95,0.55,1.00, 0.55,1.00,0.50,1.05, 0.50,1.05,0.55,1.10, 0.55,1.10,0.60,1.05,
  0.60];

const COLORS = { black: '#000000', red: '#ff0000', green: '#00e400', blue: '#0000f0', cyan: '#00ffff', magenta: '#ff00ff' };
const FONT = "'Liberation Sans', Arial, Helvetica, sans-serif";

const PANELS = [
  { id: 'chartA', left: 0, top: 0, area: { left: 46, right: 330, top: 48.5, bottom: 278 },
    yMax: 4.25, yTicks: Y_TICKS_PROTEIN, yTitle: 'RMSD (Å)', yTitleSize: 12, yTitleX: 16,
    legend: { x: 49, y: 48 }, letter: { text: 'A', sup: '', x: 22, y: 300 },
    series: [['DCN', protDCN, 'black'], ['MDC', protMDC, 'red'], ['RBV', protRBV, 'green'],
             ['RMS', protRMS, 'blue'], ['HCQ', protHCQ, 'cyan'], ['Apo', protApo, 'magenta']] },
  { id: 'chartB', left: 0, top: 310, area: { left: 46, right: 330, top: 359.2, bottom: 590 },
    yMax: 4.25, yTicks: Y_TICKS_PROTEIN, yTitle: 'RMSD (Å)', yTitleSize: 12, yTitleX: 16,
    legend: { x: 49, y: 359 }, letter: { text: 'B', sup: '', x: 22, y: 612 },
    series: [['NBD', protNBD, 'black'], ['MGN', protMGN, 'red'], ['RBV', protRBV, 'green'],
             ['RMS', protRMS, 'blue'], ['HCQ', protHCQ, 'cyan'], ['Apo', protApo, 'magenta']] },
  { id: 'chartC', left: 0, top: 617, area: { left: 46, right: 330, top: 663.8, bottom: 895 },
    yMax: 4.25, yTicks: Y_TICKS_PROTEIN, yTitle: 'RMSD (Å)', yTitleSize: 12, yTitleX: 16,
    legend: { x: 50, y: 663 }, letter: { text: 'C', sup: '', x: 22, y: 927 },
    series: [['MDF', protMDF, 'black'], ['HXD', protHXD, 'red'], ['RBV', protRBV, 'green'],
             ['RMS', protRMS, 'blue'], ['HCQ', protHCQ, 'cyan'], ['Apo', protApo, 'magenta']] },
  { id: 'chartA1', left: 380, top: 0, area: { left: 461.7, right: 746, top: 47.4, bottom: 278 },
    yMax: 5.75, yTicks: Y_TICKS_LIGAND, yTitle: 'Ligand RMSD (Å)', yTitleSize: 15, yTitleX: 433,
    legend: { x: 467, y: 14 }, letter: { text: 'A', sup: '1', x: 435, y: 300 },
    series: [['DCN', ligDCN, 'black'], ['MDC', ligMDC, 'red'], ['RBV', ligRBV, 'green'],
             ['RMS', ligRMS, 'blue'], ['HCQ', ligHCQ, 'cyan']] },
  { id: 'chartB1', left: 380, top: 310, area: { left: 461.7, right: 746, top: 359, bottom: 589 },
    yMax: 5.75, yTicks: Y_TICKS_LIGAND, yTitle: 'Ligand RMSD (Å)', yTitleSize: 15, yTitleX: 433,
    legend: { x: 464, y: 327 }, letter: { text: 'B', sup: '1', x: 440, y: 618 },
    series: [['NBD', ligNBD, 'black'], ['MGN', ligMGN, 'red'], ['RBV', ligRBV, 'green'],
             ['RMS', ligRMS, 'blue'], ['HCQ', ligHCQ, 'cyan']] },
  { id: 'chartC1', left: 380, top: 617, area: { left: 461.7, right: 746, top: 663.8, bottom: 895 },
    yMax: 5.75, yTicks: Y_TICKS_LIGAND, yTitle: 'Ligand RMSD (Å)', yTitleSize: 15, yTitleX: 433,
    legend: { x: 464, y: 635 }, letter: { text: 'C', sup: '1', x: 440, y: 925 },
    series: [['MDF', ligMDF, 'black'], ['HXD', ligHXD, 'red'], ['RBV', ligRBV, 'green'],
             ['RMS', ligRMS, 'blue'], ['HCQ', ligHCQ, 'cyan']] }
];

// minor ticks, Origin-style legend box with shadow, panel letter
const decorPlugin = {
  id: 'decor',
  afterDraw(chart, args, opts) {
    const { ctx, scales: { x, y } } = chart;
    ctx.save();
    ctx.strokeStyle = '#111';
    ctx.lineWidth = 1;
    ctx.beginPath();
    const ax = Math.round(y.right - 0.5) + 0.5;
    const ay = Math.round(x.top - 0.5) + 0.5;
    for (let v = 0.25; v <= y.max + 1e-6; v += 0.5) {
      const py = Math.round(y.getPixelForValue(v) - 0.5) + 0.5;
      ctx.moveTo(ax - 2.5, py);
      ctx.lineTo(ax, py);
    }
    X_TICKS_MINOR.forEach(v => {
      const px = Math.round(x.getPixelForValue(v) - 0.5) + 0.5;
      ctx.moveTo(px, ay - 3);
      ctx.lineTo(px, ay + 3);
    });
    ctx.stroke();

    // legend
    const bx = opts.legend.x - opts.left, by = opts.legend.y - opts.top;
    const w = 134, h = 54;
    ctx.fillStyle = '#000';
    ctx.fillRect(bx + 4, by + 4, w, h);
    ctx.fillStyle = '#fff';
    ctx.fillRect(bx, by, w, h);
    ctx.strokeStyle = '#555';
    ctx.strokeRect(bx + 0.5, by + 0.5, w - 1, h - 1);
    ctx.font = `bold 10.5px ${FONT}`;
    ctx.textBaseline = 'middle';
    ctx.textAlign = 'left';
    chart.data.datasets.forEach((ds, i) => {
      const col = i % 2, row = Math.floor(i / 2);
      const ly = by + 12.5 + row * 14.3;
      const x0 = bx + (col ? 69.5 : 13.5), x1 = bx + (col ? 95 : 40);
      ctx.strokeStyle = ds.borderColor;
      ctx.lineWidth = 2;
      ctx.beginPath();
      ctx.moveTo(x0, ly);
      ctx.lineTo(x1, ly);
      ctx.stroke();
      ctx.fillStyle = '#000';
      ctx.fillText(ds.label, bx + (col ? 97.5 : 42.5), ly + 0.5);
    });

    // panel letter
    const lx = opts.letter.x - opts.left, lyb = opts.letter.y - opts.top;
    ctx.fillStyle = '#000';
    ctx.textBaseline = 'alphabetic';
    ctx.font = `bold 17px ${FONT}`;
    ctx.fillText(opts.letter.text, lx, lyb);
    if (opts.letter.sup) {
      const wl = ctx.measureText(opts.letter.text).width;
      ctx.font = `bold 10px ${FONT}`;
      ctx.fillText(opts.letter.sup, lx + wl + 1, lyb - 6);
    }
    ctx.restore();
  }
};

function makeChart(p) {
  const canvas = document.getElementById(p.id);
  canvas.style.left = p.left + 'px';
  canvas.style.top = p.top + 'px';
  const yWidth = p.area.left - p.left;
  const padRight = p.left + canvas.width - p.area.right;
  const padTop = p.area.top - p.top;
  const xBand = canvas.height - (p.area.bottom - p.top);
  const xTitleSize = 11.5;
  const xTitlePad = xBand - xTitleSize * 0.6 - 30.5;
  const yTitlePad = (p.yTitleX - p.left) - p.yTitleSize * 0.6;
  const n = p.series.length;

  return new Chart(canvas, {
    type: 'line',
    data: {
      labels: TIME,
      datasets: p.series.map(([label, values, color], i) => ({
        label,
        data: values,
        borderColor: COLORS[color],
        backgroundColor: COLORS[color],
        borderWidth: 1,
        pointRadius: 0,
        tension: 0,
        fill: false,
        order: n - i
      }))
    },
    options: {
      responsive: false,
      animation: false,
      events: [],
      layout: { padding: { left: 0, right: padRight, top: padTop, bottom: 0 } },
      plugins: {
        legend: { display: false },
        tooltip: { enabled: false },
        decor: { legend: p.legend, letter: p.letter, left: p.left, top: p.top }
      },
      scales: {
        x: {
          type: 'linear', min: 0, max: 100,
          afterBuildTicks: s => { s.ticks = X_TICKS.map(v => ({ value: v })); },
          afterFit: s => { s.height = xBand; },
          grid: { drawOnChartArea: false, drawTicks: false },
          border: { display: true, color: '#111', width: 1 },
          ticks: { padding: 7, color: '#1a1a1a', autoSkip: false, maxRotation: 0,
                   font: { family: FONT, size: 7.5, weight: 'bold' } },
          title: { display: true, text: 'Time (ns)', color: '#111',
                   font: { family: FONT, size: xTitleSize, weight: 'bold' },
                   padding: { top: 0, bottom: xTitlePad } }
        },
        y: {
          type: 'linear', min: 0, max: p.yMax,
          afterBuildTicks: s => { s.ticks = p.yTicks.map(v => ({ value: v })); },
          afterFit: s => { s.width = yWidth; },
          grid: { drawOnChartArea: false, drawTicks: true, tickLength: 4, color: '#111' },
          border: { display: true, color: '#111', width: 1 },
          ticks: { padding: 2, color: '#1a1a1a', autoSkip: false,
                   callback: v => Number(v).toFixed(1),
                   font: { family: FONT, size: 7.5, weight: 'bold' } },
          title: { display: true, text: p.yTitle, color: '#111',
                   font: { family: FONT, size: p.yTitleSize, weight: 'bold' },
                   padding: { top: yTitlePad, bottom: 0 } }
        }
      }
    },
    plugins: [decorPlugin]
  });
}

PANELS.forEach(makeChart);
</script>
</body>
</html>
